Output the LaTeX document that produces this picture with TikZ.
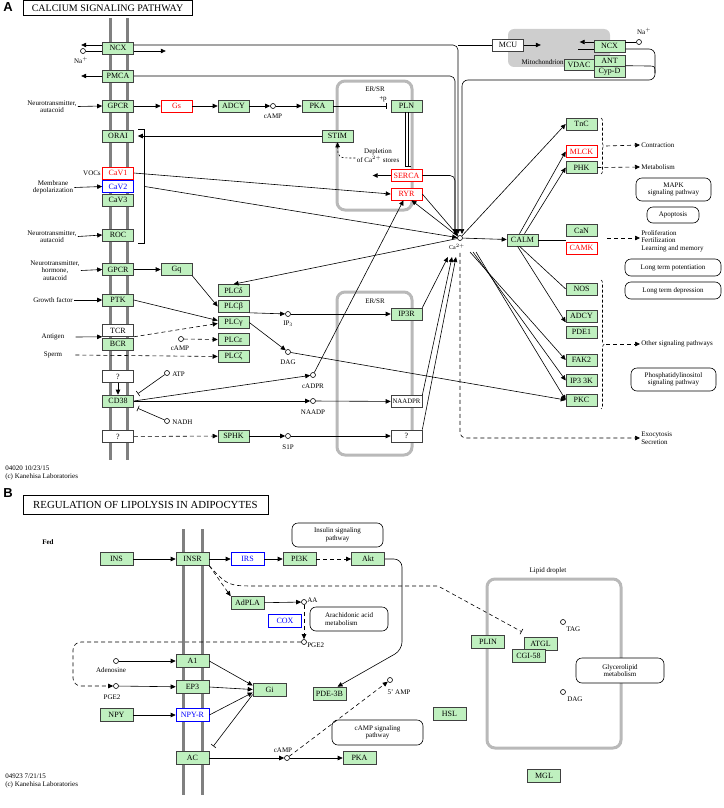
\documentclass[tikz,border=0pt]{standalone}
\usepackage{fontspec}
\setmainfont{Liberation Serif}
\newfontfamily\hsans{Liberation Sans}
\usetikzlibrary{arrows.meta,decorations.pathreplacing}
\definecolor{kgreen}{RGB}{191,240,191}
\definecolor{kgray}{RGB}{185,185,185}

\begin{document}
\begin{tikzpicture}[x=1pt,y=-1pt,line width=0.6pt,
  gn/.style={draw=black!75,fill=kgreen,minimum width=31pt,minimum height=12pt,inner sep=0pt,font=\fontsize{8}{8.5}\selectfont},
  rd/.style={gn,draw=red,fill=white,text=red},
  bl/.style={gn,draw=blue,fill=white,text=blue},
  wt/.style={gn,fill=white},
  gb/.style={gn,minimum width=33pt,minimum height=13pt},
  bb/.style={bl,minimum width=33pt,minimum height=13pt},
  cpd/.style={circle,draw,fill=white,inner sep=0pt,minimum size=5pt},
  pw/.style={draw,fill=white,rounded corners=6pt,align=center,inner sep=1pt,font=\fontsize{7}{7.5}\selectfont},
  lb/.style={font=\fontsize{7}{7.5}\selectfont,align=center,inner sep=1pt},
  memb/.style={draw=gray,line width=3pt},
  comp/.style={draw=kgray,line width=3pt,rounded corners=8pt},
  ar/.style={-{Triangle[length=5pt,width=4.5pt]}},
  inh/.style={-{Bar[width=6pt]}},
  dsh/.style={dash pattern=on 4pt off 3pt}]
\useasboundingbox (0,0) rectangle (723,808);

% ---------- A: calcium signaling
\node[font=\hsans\bfseries\fontsize{13}{13}\selectfont] at (8,7) {A};
\node[draw,line width=1pt,minimum width=169pt,minimum height=15.5pt,inner sep=0pt,font=\fontsize{10}{10}\selectfont] (ttla) at (107.5,8.25) {CALCIUM SIGNALING PATHWAY};
\foreach \x in {110,127} \draw[memb] (\x,18) -- (\x,460);
\fill[kgray!70,rounded corners=6pt] (508,29) rectangle (610,67);
\draw[comp] (337,81) rectangle (412,210);
\draw[comp] (337,292) rectangle (412,455);
\node[lb] at (375,89) {ER/SR};
\node[lb] at (375,301) {ER/SR};

\foreach \n/\s/\t/\y in {ncx/gn/NCX/48, pmca/gn/PMCA/76, gpcr/gn/GPCR/106, orai/gn/ORAI/136,
  cava/rd/CaV1/173, cavb/bl/CaV2/186.5, cavc/gn/CaV3/200, roc/gn/ROC/235, gpcrb/gn/GPCR/269.5,
  ptk/gn/PTK/300, tcr/wt/TCR/330.5, bcr/gn/BCR/344, qa/wt/?/376.5, cd/gn/CD38/401, qb/wt/?/436.5}
  \node[\s] (\n) at (118,\y) {\t};
\foreach \n/\t/\y in {plcd/PLCδ/290.5, plcb/PLCβ/306.5, plcg/PLCγ/322.5, plce/PLCε/339.5, plcz/PLCζ/356.5}
  \node[gn] (\n) at (233.5,\y) {\t};
\foreach \n/\s/\t/\y in {tnc/gn/TnC/124, mlck/rd/MLCK/151.5, phk/gn/PHK/167.5, can/gn/CaN/230.5,
  camk/rd/CAMK/248, nos/gn/NOS/289, adcyb/gn/ADCY/316, pdea/gn/PDE1/332, fak/gn/FAK2/360,
  ipk/gn/IP3 3K/380.5, pkc/gn/PKC/400}
  \node[\s] (\n) at (581.5,\y) {\t};

\node[rd] (gs) at (176.5,106) {Gs};
\node[gn] (adcy) at (233.5,106) {ADCY};
\node[cpd] (campa) at (273,106) {};
\node[lb] at (273,116) {cAMP};
\node[gn] (pka) at (317.5,106) {PKA};
\node[gn] (pln) at (406.5,106) {PLN};
\node[gn] (stim) at (337.5,136) {STIM};
\node[rd] (serca) at (406.5,175.5) {SERCA};
\node[rd] (ryr) at (406.5,194) {RYR};
\node[gn] (gq) at (176.5,269.5) {Gq};
\node[gn] (ipr) at (406.5,314) {IP3R};
\node[wt,font=\fontsize{6.8}{7}\selectfont] (naadpr) at (406.5,401.5) {NAADPR};
\node[wt] (qc) at (406.5,436) {?};
\node[gn] (sphk) at (233.5,436) {SPHK};
\node[wt] (mcu) at (508,45) {MCU};
\node[gn] (mncx) at (609.5,46) {NCX};
\node[gn,minimum width=30pt,minimum height=11pt] (vdac) at (579,64.5) {VDAC};
\node[gn,minimum height=11pt] (ant) at (609.5,60.5) {ANT};
\node[gn,minimum height=11pt] (cypd) at (609.5,71.5) {Cyp-D};
\node[gn] (calm) at (522.5,240) {CALM};

\node[cpd] (nao) at (83,51) {};
\node[lb] at (81,60) {Na$^+$};
\node[cpd] (mna) at (639,42) {};
\node[lb] at (644,31) {Na$^+$};
\node[lb,anchor=east] at (565,62) {Mitochondrion};
\node[cpd] (ca) at (460,238) {};
\node[lb,font=\fontsize{6}{6}\selectfont] at (457,247) {Ca$^{2+}$};
\node[cpd] (campc) at (181,339) {};
\node[lb] at (180,348) {cAMP};
\node[cpd] (ip3) at (288,314) {};
\node[lb] at (288,324) {IP\textsubscript{3}};
\node[cpd] (dag) at (288,352) {};
\node[lb] at (288,362) {DAG};
\node[cpd] (atp) at (167,373) {};
\node[lb,anchor=west] at (171,374) {ATP};
\node[cpd] (nadh) at (167,421) {};
\node[lb,anchor=west] at (171,422) {NADH};
\node[cpd] (cadpr) at (313,375) {};
\node[lb] at (313,386) {cADPR};
\node[cpd] (naadp) at (313,401) {};
\node[lb] at (313,412) {NAADP};
\node[cpd] (sip) at (288,436) {};
\node[lb] at (288,447) {S1P};

\node[lb] (nta) at (52,106.5) {Neurotransmitter,\\autacoid};
\node[lb] (md) at (53,187.5) {Membrane\\depolarization};
\node[lb,anchor=east] at (102,173) {VOCs};
\node[lb] (ntb) at (52,236.5) {Neurotransmitter,\\autacoid};
\node[lb] (ntc) at (55,270.5) {Neurotransmitter,\\hormone,\\autacoid};
\node[lb] (gf) at (53,300) {Growth factor};
\node[lb] (ag) at (53,337) {Antigen};
\node[lb] (sp) at (53,355) {Sperm};
\node[lb] (dep) at (378,156) {Depletion\\of Ca$^{2+}$ stores};
\node[lb] at (383,99) {+p};

\node[pw,minimum width=75pt,minimum height=23pt] (mapk) at (673.5,189.5) {MAPK\\signaling pathway};
\node[pw,minimum width=52pt,minimum height=16pt] (apo) at (673,215) {Apoptosis};
\node[pw,minimum width=96pt,minimum height=17pt] (ltp) at (673,267.5) {Long term potentiation};
\node[pw,minimum width=96pt,minimum height=17pt] (ltd) at (673,290.5) {Long term depression};
\node[pw,minimum width=85pt,minimum height=23pt] (pis) at (673.5,379.5) {Phosphatidylinositol\\signaling pathway};
\node[lb,anchor=west] (ctr) at (640,145) {Contraction};
\node[lb,anchor=west] (met) at (640,167) {Metabolism};
\node[lb,anchor=north west,align=left] (prl) at (640,229) {Proliferation\\Fertilization\\Learning and memory};
\node[lb,anchor=west] (oth) at (640,344) {Other signaling pathways};
\node[lb,anchor=west,align=left] (exo) at (640,438) {Exocytosis\\Secretion};
\node[lb,anchor=west,align=left] at (4,473) {04020 10/23/15\\(c) Kanehisa Laboratories};

\coordinate (cat) at (459,234);
\coordinate (cab) at (452,257);
\coordinate (cbr) at (470,252);
\coordinate (bra) at (606,146);
\coordinate (brb) at (606,344);
\coordinate (cnk) at (607,238);

% membrane and Ca2+ stores
\draw[ar] ([yshift=3pt]ncx.west) -- ++(-21,0);
\draw (nao) -- (nao -| ncx.west);
\draw[ar] (nao -| ncx.east) -- ++(32,0);
\draw[ar,rounded corners=5pt] ([yshift=3pt]ncx.east) -| ([xshift=-1pt]cat);
\draw[ar] (pmca.west) -- ++(-21,0);
\draw[ar,rounded corners=5pt] (pmca.east) -| ([xshift=-4pt]cat);
\draw[rounded corners=5pt] (serca.east) -| ([xshift=-4pt]cat);
\draw[ar] (serca.west) -- ++(-18,0);
\draw ([xshift=-1pt]cat |- mcu.west) -- (mcu.west);
\draw[ar] (mcu.east) -- ++(17,0);
\draw[ar] ([yshift=4pt]mncx.west) -- ++(-14,0);
\draw (mna) -- ([yshift=4pt]mncx.east);
\draw (mncx.west |- 0,49) -- ++(-16,0);
\draw[ar,rounded corners=6pt] (mncx.east |- 0,49) -| (655,80) -| ([xshift=3pt]cat);
\draw (cypd.north east) -- (648,66) .. controls (655,66) .. (655,73);
\draw[ar] (nta.east) -- (gpcr.west);
\draw[ar] (gpcr) -- (gs);
\draw[ar] (gs) -- (adcy);
\draw[ar] (adcy) -- (campa);
\draw[ar] (campa) -- (pka);
\draw[inh] (pka) -- ([xshift=-4pt]pln.west);
\draw ([xshift=-1.5pt]pln.south) -- ([xshift=-1.5pt,yshift=3pt]serca.north);
\draw[inh] ([xshift=1.5pt]pln.south) -- ([xshift=1.5pt,yshift=3pt]serca.north);
\draw[ar] (stim) -- ([xshift=4pt]orai.east);
\draw[ar,dash pattern=on 2pt off 2pt] ([yshift=-2pt]dep.west) .. controls (338,158) .. (stim.south);
\draw (138,129) -- (144,129) -- (144,243) -- (138,243);
\draw[ar] (md.east) -- (cavb.west);
\draw[ar] (ntb.east) -- (roc.west);
\draw[ar] (cava.east) -- (ryr.west);
\draw[ar] ([xshift=11pt]cavb.east) -- (ca);
\draw[ar] (ryr.east) -- (ca);
\draw[ar] (ca) -- ([xshift=5pt]ryr.south);
\draw[ar] (cadpr) -- ([xshift=-3pt]ryr.south);

% PLC and second messengers
\draw[ar] (ntc.east) -- (gpcrb.west);
\draw[ar] (gpcrb) -- (gq);
\draw[ar] (gq.south east) -- (plcb.west);
\draw[ar] (gf.east) -- (ptk.west);
\draw[ar] (ptk.east) -- ([yshift=2pt]plcg.west);
\draw[ar] ([xshift=10pt]ag.east) -- (tcr.south west);
\draw[ar,dsh] (tcr.south east) -- ([yshift=-1pt]plcg.west);
\draw[ar,dsh] (campc) -- (plce.west);
\draw[ar,dsh] ([xshift=12pt]sp.east) -- (plcz.west);
\draw[ar] (ca) -- (plcd.north);
\draw[ar] (plcb.south east) -- (ip3);
\draw[ar] (plcg.east) -- (dag);
\draw[ar] (ip3) -- (ipr);
\draw[ar] (dag) -- (pkc.west);
\draw[ar] (qa) -- (cd);
\draw[inh] (atp) -- ([xshift=4pt,yshift=1pt]cd.north east);
\draw[inh] (nadh) -- ([xshift=4pt,yshift=-1pt]cd.south east);
\draw[ar] (cd.east) -- (cadpr);
\draw[ar] (cd.east) -- (naadp);
\draw[ar] (naadp) -- (naadpr);
\draw[ar,dsh] (qb) -- (sphk);
\draw[ar] (sphk) -- (sip);
\draw[ar] (sip) -- (qc);
\draw[ar] (ipr.north east) -- ([xshift=-4pt]cab);
\draw[ar] (naadpr.north east) -- (cab);
\draw[ar] (qc.north east) -- ([xshift=4pt]cab);

% targets of Ca2+ and CALM
\draw[ar] (ca) -- (calm);
\draw[ar] (ca) -- (tnc.west);
\draw[ar] (cbr) -- (fak.west);
\draw[ar] ([xshift=3pt]cbr) -- (ipk.west);
\draw[ar] ([xshift=6pt]cbr) -- (pkc.west);
\draw[ar] ([xshift=-3pt]calm.north) -- (mlck.west);
\draw[ar] ([xshift=2pt]calm.north) -- (phk.west);
\draw (calm.east) -- (calm.east -| can.west);
\draw ([xshift=-3pt]calm.south) -- (nos.west);
\draw[ar] ([xshift=-5pt]calm.south) -- (adcyb.south west);
\draw[dash pattern=on 3pt off 2pt,decorate,decoration={brace,amplitude=3pt}] (601,118) -- (601,174);
\draw[dash pattern=on 3pt off 2pt,decorate,decoration={brace,amplitude=3pt}] (601,280) -- (601,409);
\draw[ar,dsh] (bra) -- (ctr.west);
\draw[ar,dsh] (phk.east) -- (met.west);
\draw[ar,dsh] (cnk) -- (cnk -| prl.west);
\draw[ar,dsh] (brb) -- (oth.west);
\draw[ar,dsh,rounded corners=6pt] ([yshift=-12pt]ca.south) |- (exo.west);

% ---------- B: lipolysis in adipocytes
\node[font=\hsans\bfseries\fontsize{13}{13}\selectfont] at (8,493) {B};
\node[draw,line width=1pt,minimum width=245pt,minimum height=19pt,inner sep=0pt,font=\fontsize{10.8}{11}\selectfont] (ttlb) at (145.5,504.5) {REGULATION OF LIPOLYSIS IN ADIPOCYTES};
\foreach \x in {183,202} \draw[memb] (\x,529) -- (\x,795);
\draw[comp] (487,579) rectangle (621,748);
\node[lb] at (548,571) {Lipid droplet};
\node[font=\bfseries\fontsize{7}{7.5}\selectfont] at (48,542) {Fed};

\foreach \n/\s/\t/\x/\y in {ins/gb/INS/116.5/559, insr/gb/INSR/192.5/559, irs/bb/IRS/247.5/559,
  pik/gb/PI3K/299.5/559, akt/gb/Akt/368/559, adpla/gb/AdPLA/247.5/603, cox/bb/COX/285/620.5,
  aone/gb/A1/192.5/661, epth/gb/EP3/192.5/687, npy/gb/NPY/116.5/715, npyr/bb/NPY-R/192.5/715,
  ac/gb/AC/192.5/758, gi/gb/Gi/269.5/689.5, pde/gb/PDE-3B/329.5/693.5, pkab/gb/PKA/359.5/758,
  hsl/gb/HSL/449.5/713.5, plin/gb/PLIN/488/642, atgl/gb/ATGL/540.5/643.5, cgi/gb/CGI-58/528.5/656,
  mgl/gb/MGL/544/776}
  \node[\s] (\n) at (\x,\y) {\t};

\node[cpd] (aa) at (304,602) {};
\node[lb,anchor=west] at (306,600) {AA};
\node[cpd] (pgeu) at (304,642) {};
\node[lb,anchor=west] at (306,645) {PGE2};
\node[cpd] (ado) at (116,661) {};
\node[lb] at (111,670) {Adenosine};
\node[cpd] (pgel) at (116,686) {};
\node[lb] at (112,697) {PGE2};
\node[cpd] (campb) at (287,758) {};
\node[lb] at (283,750) {cAMP};
\node[cpd] (amp) at (390,680) {};
\node[lb] at (399,692) {5' AMP};
\node[cpd] (tag) at (563,622) {};
\node[lb,anchor=west] at (565,629) {TAG};
\node[cpd] (dagb) at (563,692) {};
\node[lb,anchor=west] at (566,699) {DAG};

\node[pw,minimum width=91pt,minimum height=24pt] (insp) at (337.5,535) {Insulin signaling\\pathway};
\node[pw,minimum width=78pt,minimum height=24pt,align=left] (arm) at (349,619) {Arachidonic acid\\metabolism};
\node[pw,minimum width=91pt,minimum height=25pt] (camp) at (377.5,732.5) {cAMP signaling\\pathway};
\node[pw,minimum width=88pt,minimum height=25pt] (glm) at (620,670.5) {Glycerolipid\\metabolism};
\node[lb,anchor=west,align=left] at (4,781) {04923 7/21/15\\(c) Kanehisa Laboratories};

\coordinate (akb) at (402,650);

\draw[ar] (ins) -- (insr);
\draw[ar] (insr) -- (irs);
\draw[ar] (irs) -- (pik);
\draw[ar,dsh] (pik) -- (akt);
\draw[ar,rounded corners=8pt] (akt.east) -| (akb) -- ([xshift=8pt]pde.north);
\draw[ar,dsh] (insr.south east) -- (adpla.north west);
\draw[inh,dsh] (insr.south east) .. controls (228,586) .. (258,586) -- (438,586) -- ([xshift=-2pt,yshift=5pt]atgl.north west);
\draw[ar] (adpla) -- (aa);
\draw[ar,dsh] (aa) -- (pgeu);
\draw[ar,dsh,rounded corners=8pt] (pgeu) -- (73,642) |- (pgel);
\draw[ar] (ado) -- (aone);
\draw[ar] (pgel) -- (epth);
\draw[ar] (npy) -- (npyr);
\draw[ar] (aone.east) -- ([yshift=4pt]gi.west);
\draw[ar] (epth.east) -- (gi.west);
\draw[ar] (npyr.east) -- ([yshift=-3pt]gi.west);
\draw[inh] ([yshift=-5pt]gi.west) -- ([xshift=4pt,yshift=5pt]ac.north east);
\draw[ar] (ac) -- (campb);
\draw[ar] (campb) -- (pkab);
\draw[ar,dsh] (campb) -- (amp);
\end{tikzpicture}
\end{document}
